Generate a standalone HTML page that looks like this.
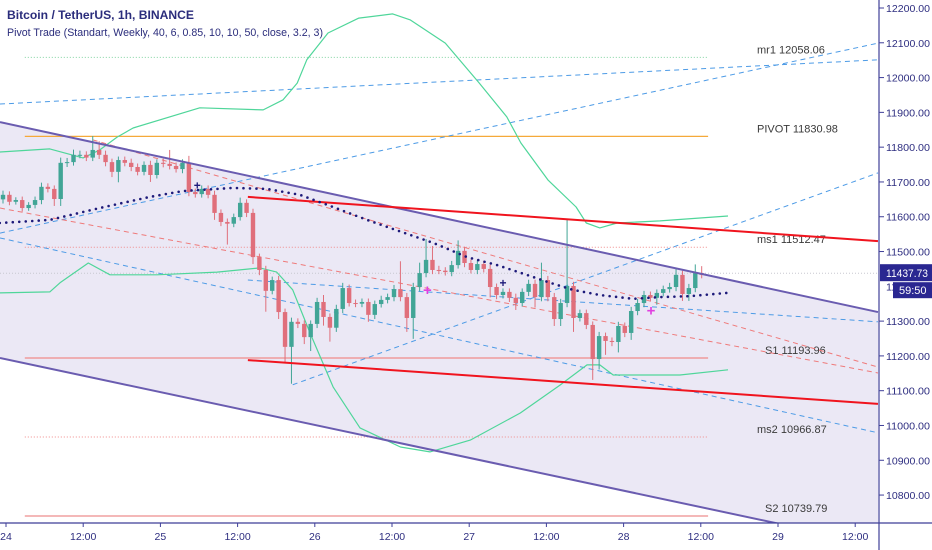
<!DOCTYPE html>
<html><head><meta charset="utf-8"><style>
html,body{margin:0;padding:0;background:#fff;}
svg{display:block;font-family:"Liberation Sans",sans-serif;}
</style></head><body>
<svg id="chart" width="932" height="550" viewBox="0 0 932 550" xmlns="http://www.w3.org/2000/svg">
<defs><clipPath id="plot"><rect x="0" y="0" width="879" height="523"/></clipPath></defs>
<g id="layer-fill" clip-path="url(#plot)"></g>
<g id="layer-lines" clip-path="url(#plot)"></g>
<g id="layer-candles" clip-path="url(#plot)"></g>
<g id="layer-top" clip-path="url(#plot)"></g>
<g id="axes"></g>
<text x="7" y="19" font-size="11.5" font-weight="bold" fill="#2b2d7c" textLength="187" lengthAdjust="spacingAndGlyphs">Bitcoin / TetherUS, 1h, BINANCE</text>
<text x="7" y="36" font-size="11" fill="#2b2d7c" textLength="316" lengthAdjust="spacingAndGlyphs">Pivot Trade (Standart, Weekly, 40, 6, 0.85, 10, 10, 50, close, 3.2, 3)</text>
</svg>
<script>
// ---- data ----
const firstOpen = 11650;
const closes = [11663,11643,11648,11625,11634,11648,11686,11680,11651,11755,11757,11778,11778,11770,11792,11778,11757,11729,11763,11755,11743,11729,11749,11720,11755,11752,11746,11737,11755,11671,11665,11680,11663,11611,11585,11580,11599,11640,11611,11484,11447,11387,11418,11326,11226,11298,11292,11254,11292,11355,11312,11281,11335,11395,11352,11350,11355,11318,11349,11361,11369,11392,11369,11309,11398,11438,11476,11447,11445,11441,11461,11502,11467,11447,11464,11450,11398,11375,11384,11367,11352,11384,11407,11369,11418,11369,11306,11352,11401,11309,11323,11289,11191,11257,11243,11240,11286,11266,11329,11352,11375,11367,11381,11392,11398,11433,11378,11395,11438,11433];
const wickUp = [12,10,8,10,8,10,12,10,10,15,12,15,12,10,40,25,12,10,10,10,12,10,10,12,10,12,40,10,10,20,10,10,10,12,10,10,10,15,10,12,10,12,10,12,10,12,10,10,10,12,20,10,12,15,10,10,10,10,10,12,10,12,80,12,12,30,60,40,12,10,12,30,12,10,12,10,12,10,10,10,12,10,12,12,50,12,12,12,190,12,10,10,10,12,10,10,12,10,12,12,12,10,10,10,12,20,12,12,25,20];
const wickDn = [12,10,8,10,8,10,12,10,20,20,12,10,10,10,10,12,12,15,30,10,12,10,10,20,10,10,10,10,12,12,10,10,10,20,12,60,10,10,12,20,15,60,10,20,46,106,12,20,40,12,25,40,12,12,10,10,10,20,12,10,10,12,12,40,60,12,12,12,10,10,12,10,12,10,12,10,30,12,10,12,20,10,12,30,12,12,20,20,12,40,10,12,60,30,40,12,30,12,20,12,12,10,20,10,10,12,20,20,12,10];
const pivotNames = ["mr1","PIVOT","ms1","S1","ms2","S2"];
const pivotValues = [12058.06,11830.98,11512.47,11193.96,10966.87,10739.79];
const navyCurveBars = [-0.5,7.3,15.1,22.9,28.1,35.9,41.2,46.3,51.5,56.8,62.2,67.1,72.4,77.1,81.7,84.9,88.9,93.1,98.3,102.5,107.2,112.9];
const navyCurvePrices = [11582,11591,11625,11657,11674,11683,11680,11663,11628,11591,11556,11525,11484,11461,11433,11413,11390,11375,11364,11369,11372,11381];
const upperBandBars = [-0.5,7.3,12.5,15.1,17.8,20.3,30.7,40.6,43.7,45.9,47.4,50.7,55.5,60.8,63.5,69,74.3,78.6,80.8,85,89.4,91,93.1,95.8,102.5,113.1];
const upperBandPrices = [11786,11795,11769,11792,11829,11855,11913,11907,11936,11984,12051,12128,12171,12183,12166,12099,11984,11887,11812,11706,11628,11582,11568,11582,11588,11602];
const lowerBandBars = [-0.5,7.3,8.9,13.3,16.7,24,33.4,40.1,42.7,45.2,47.9,51.5,55.7,62,66.6,72.9,80.7,86.9,91.1,93.1,95.2,105.6,113.1];
const lowerBandPrices = [11381,11384,11410,11467,11433,11433,11441,11453,11441,11390,11266,11111,10993,10938,10924,10958,11036,11116,11174,11174,11145,11145,11160];
// trend lines: [bar1, price1, bar2, price2]
const channelUpper = [-0.47,11872,136.5,11326];
const channelLower = [-0.47,11194,136.5,10657];
const redUpper = [38.2,11657,136.5,11530];
const redLower = [38.2,11188,136.5,11062];
const blueLines = [[-0.47,11924,136.5,12051],[-0.47,11553,136.5,12099],[45.2,11117,136.5,11726],[-0.47,11539,136.5,10979],[38.2,11418,136.5,11298]];
const redDashLines = [[14,11821,136.5,11168],[-0.47,11625,136.5,11151]];
const navyMarkers = [[30.3,11690],[78,11410]];
const pinkMarkers = [[66.2,11390],[101.1,11330]];
const priceTicks = [12200,12100,12000,11900,11800,11700,11600,11500,11300,11200,11100,11000,10900,10800];
const timeLabels = ["24","12:00","25","12:00","26","12:00","27","12:00","28","12:00","29","12:00"];
const lastPrice = 11437.73;

// ---- scales ----
const yS = p => 8 + (12200 - p) * 0.3479;
const xB = b => 3 + b * 6.41;
const xT = i => 6 + i * 77.2; // 12h steps
const NS = "http://www.w3.org/2000/svg";
function mk(tag, parent, attrs){const e=document.createElementNS(NS,tag);for(const k in attrs)e.setAttribute(k,attrs[k]);parent.appendChild(e);return e;}
const gFill=document.getElementById('layer-fill'), gL=document.getElementById('layer-lines'), gC=document.getElementById('layer-candles'), gT=document.getElementById('layer-top'), gA=document.getElementById('axes');

// channel fill
const cu=channelUpper, cl=channelLower;
let poly=mk('polygon',gFill,{points:`${xB(cu[0])},${yS(cu[1])} ${xB(cu[2])},${yS(cu[3])} ${xB(cl[2])},${yS(cl[3])} ${xB(cl[0])},${yS(cl[1])}`,fill:'#ebe8f5'});



// pivot horizontal lines
const pivotStyles=[{c:'#7fd39e',d:'1 2',w:1},{c:'#f5a93a',d:'',w:1.2},{c:'#f08a8a',d:'1 2',w:1},{c:'#f08a8a',d:'',w:1.2},{c:'#f08a8a',d:'1 2',w:1},{c:'#f0a0a0',d:'',w:1.5}];
pivotValues.forEach((v,i)=>{
  const st=pivotStyles[i];
  const l=mk('line',gL,{x1:xB(3.4),x2:xB(110),y1:yS(v),y2:yS(v),stroke:st.c,'stroke-width':st.w,'stroke-dasharray':st.d});
  
  
  const t=mk('text',gL,{x:(pivotNames[i].startsWith('S')?765:757),y:yS(v)-4,'font-size':'11',fill:'#3a3a3a'});
  t.textContent=pivotNames[i]+' '+pivotValues[i].toFixed(2);
  
  
});
// last price dotted
let lp=mk('line',gL,{x1:0,x2:879,y1:yS(lastPrice),y2:yS(lastPrice),stroke:'#c8c8d0','stroke-dasharray':'1 2'});



function seg(a,parent,stroke,w,dash,name){
  const l=mk('line',parent,{x1:xB(a[0]),y1:yS(a[1]),x2:xB(a[2]),y2:yS(a[3]),stroke:stroke,'stroke-width':w,'stroke-dasharray':dash});
  
  
}
blueLines.forEach((a,i)=>seg(a,gL,'#4d9be6',1,'5 4','blue-trend-line-'+(i+1)));
redDashLines.forEach((a,i)=>seg(a,gL,'#ef7a7a',1,'5 4','red-dashed-line-'+(i+1)));

function curve(bars,prices,parent,stroke,w,dash,name,cap){
  const d=bars.map((b,i)=>(i?'L':'M')+xB(b).toFixed(1)+','+yS(prices[i]).toFixed(1)).join(' ');
  const p=mk('path',parent,{d:d,fill:'none',stroke:stroke,'stroke-width':w,'stroke-dasharray':dash,'stroke-linecap':cap||'butt','stroke-linejoin':'round'});
  
  
}
curve(upperBandBars,upperBandPrices,gL,'#4fd69a',1.2,'','upper-band');
curve(lowerBandBars,lowerBandPrices,gL,'#4fd69a',1.2,'','lower-band');

// candles
let prev=firstOpen;
closes.forEach((c,i)=>{
  const o=prev; prev=c;
  const up=c>=o, col=up?'#41a596':'#e06f7b';
  const x=xB(i);
  const hi=Math.max(o,c)+wickUp[i], lo=Math.min(o,c)-wickDn[i];
  const g=mk('g',gC,{});
  
  
  mk('line',g,{x1:x,x2:x,y1:yS(hi),y2:yS(lo),stroke:col,'stroke-width':1});
  const yt=yS(Math.max(o,c)), yb=yS(Math.min(o,c));
  mk('rect',g,{x:x-2.2,y:yt,width:4.4,height:Math.max(1,yb-yt),fill:col});
});

// top layer: channel lines, red lines, navy dots, markers
seg(channelUpper,gT,'#6a5cb0',2,'','channel-upper-line');
seg(channelLower,gT,'#6a5cb0',2,'','channel-lower-line');
seg(redUpper,gT,'#f0141e',2,'','resistance-line');
seg(redLower,gT,'#f0141e',2,'','support-line');
curve(navyCurveBars,navyCurvePrices,gT,'#1d1a7a',2.6,'0 6.5','navy-dotted-curve','round');
navyMarkers.forEach(m=>{const t=mk('text',gT,{x:xB(m[0]),y:yS(m[1])+4,'font-size':'12','font-weight':'bold',fill:'#1d1a7a','text-anchor':'middle'});t.textContent='+';
  
  });
pinkMarkers.forEach(m=>{const t=mk('text',gT,{x:xB(m[0]),y:yS(m[1])+5,'font-size':'15','font-weight':'bold',fill:'#e040e0','text-anchor':'middle'});t.textContent='+';
  
  });

// axes
const axC='#3f3f98', txC='#2e2e80';
let ay=mk('line',gA,{x1:879,x2:879,y1:0,y2:550,stroke:axC,'stroke-width':1.2});


let ax=mk('line',gA,{x1:0,x2:932,y1:523,y2:523,stroke:axC,'stroke-width':1.2});


priceTicks.forEach(p=>{
  mk('line',gA,{x1:879,x2:884,y1:yS(p),y2:yS(p),stroke:axC});
  const t=mk('text',gA,{x:886,y:yS(p)+4,'font-size':'10.5',fill:txC,textLength:'44',lengthAdjust:'spacingAndGlyphs'});
  t.textContent=p.toFixed(2);
  
  
});
// hidden 11400 label partly
const t14=mk('text',gA,{x:886,y:yS(11400)+4,'font-size':'10.5',fill:txC,textLength:'44',lengthAdjust:'spacingAndGlyphs'});
t14.textContent='11400.00';


timeLabels.forEach((s,i)=>{
  mk('line',gA,{x1:xT(i),x2:xT(i),y1:523,y2:527,stroke:axC});
  const t=mk('text',gA,{x:xT(i),y:540,'font-size':'10.5',fill:txC,'text-anchor':'middle'});
  t.textContent=s;
  
  
});
// price tag
const ly=yS(lastPrice);
let tag=mk('rect',gA,{x:880,y:ly-9,width:52,height:17,fill:'#2a2791'});


let tagT=mk('text',gA,{x:886,y:ly+4,'font-size':'11',fill:'#fff',textLength:'42',lengthAdjust:'spacingAndGlyphs'});
tagT.textContent=lastPrice.toFixed(2);


let cd=mk('rect',gA,{x:893,y:ly+9,width:39,height:16,fill:'#2a2791'});


let cdT=mk('text',gA,{x:899,y:ly+21,'font-size':'11',fill:'#fff'});
cdT.textContent='59:50';


</script>
</body></html>
